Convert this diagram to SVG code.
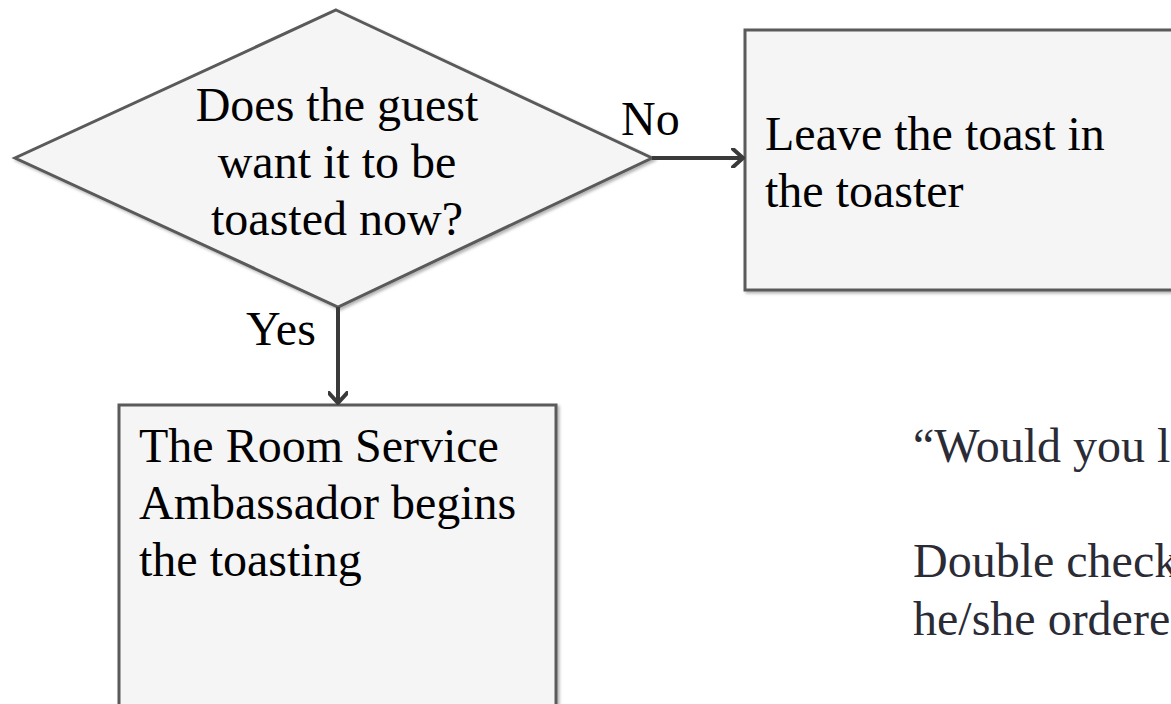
<svg xmlns="http://www.w3.org/2000/svg" width="1171" height="704" viewBox="0 0 1171 704">
<style>
.t{font-family:"Liberation Serif","Times New Roman",serif;font-size:48px;fill:#000}
.s{fill:#f5f5f5;stroke:#5a5a5a;stroke-width:3}
.c{stroke:#3a3a3a;stroke-width:4;fill:none}
.r{font-family:"Liberation Serif","Times New Roman",serif;font-size:48px;fill:#2b2b36}
</style>
<defs>
<marker id="ah" markerWidth="16" markerHeight="20" refX="12" refY="10" orient="auto" markerUnits="userSpaceOnUse" viewBox="0 0 16 20">
<path d="M2,1 L12,10 L2,19" fill="none" stroke="#3a3a3a" stroke-width="4" stroke-linecap="round" stroke-linejoin="round"/>
</marker>
<filter id="sh" x="-5%" y="-5%" width="110%" height="110%"><feDropShadow dx="2" dy="2" stdDeviation="1.5" flood-color="#000" flood-opacity="0.3"/></filter>
</defs>
<rect width="1171" height="704" fill="#fff"/>
<g id="decision">
<polygon class="s" filter="url(#sh)" points="336,10 652,158 338,307 15,158"/>
<text class="t" x="337" y="121" text-anchor="middle">Does the guest</text>
<text class="t" x="337" y="178" text-anchor="middle">want it to be</text>
<text class="t" x="337" y="235" text-anchor="middle">toasted now?</text>
</g>
<g id="leave">
<rect class="s" filter="url(#sh)" x="745" y="30" width="440" height="260"/>
<text class="t" x="765" y="150">Leave the toast in</text>
<text class="t" x="765" y="207">the toaster</text>
</g>
<g id="begin">
<rect class="s" filter="url(#sh)" x="119" y="405" width="437" height="320"/>
<text class="t" x="139" y="462">The Room Service</text>
<text class="t" x="139" y="519">Ambassador begins</text>
<text class="t" x="139" y="576">the toasting</text>
</g>
<g id="note">
<text class="r" x="913" y="462">“Would you l</text>
<text class="r" x="913" y="577">Double check</text>
<text class="r" x="913" y="635">he/she ordere</text>
</g>
<g id="connectors">
<line class="c" x1="652" y1="158" x2="743" y2="158" marker-end="url(#ah)"/>
<line class="c" x1="338" y1="307" x2="338" y2="403" marker-end="url(#ah)"/>
<text class="t" x="621" y="135">No</text>
<text class="t" x="246" y="345">Yes</text>
</g>
</svg>
